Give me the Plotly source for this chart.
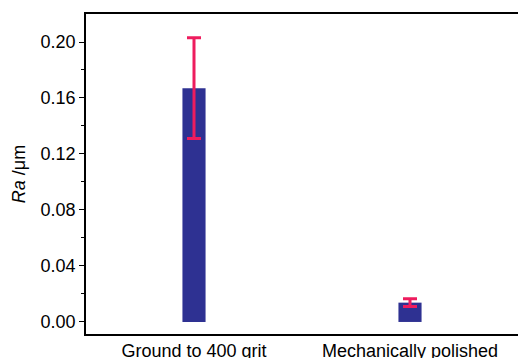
import plotly.graph_objects as go

categories = ["Ground to 400 grit", "Mechanically polished"]
ra_values = [0.167, 0.0138]
ra_errors = [0.036, 0.0028]

fig = go.Figure()
fig.add_trace(go.Bar(
    x=[0, 1], y=ra_values,
    width=0.107,
    marker=dict(color="#2E3192", line=dict(width=0)),
    error_y=dict(type="data", array=ra_errors, visible=True,
                 color="#EE1C5E", thickness=3, width=7),
))

font = "Liberation Sans, Arial, sans-serif"
fig.update_layout(
    width=518, height=358,
    margin=dict(l=86, r=0, t=14, b=24),
    plot_bgcolor="white", paper_bgcolor="white",
    showlegend=False,
    font=dict(family=font, size=18, color="black"),
    xaxis=dict(
        range=[-0.5, 1.5],
        tickvals=[0, 1], ticktext=categories,
        showgrid=False, zeroline=False, automargin=False,
        showline=True, linecolor="black", linewidth=1.5, mirror=True,
        ticks="", tickfont=dict(size=18),
    ),
    yaxis=dict(
        range=[-0.0086, 0.22],
        automargin=False,
        tickvals=[0.0, 0.04, 0.08, 0.12, 0.16, 0.20],
        ticktext=["0.00", "0.04", "0.08", "0.12", "0.16", "0.20"],
        showgrid=False, zeroline=False,
        showline=True, linecolor="black", linewidth=1.5,
        ticks="outside", ticklen=5, tickwidth=1, tickcolor="black",
        minor=dict(tickvals=[0.02, 0.06, 0.10, 0.14, 0.18], ticks="outside",
                   ticklen=3, tickwidth=1, tickcolor="black"),
        tickfont=dict(size=18),
        title=dict(text="<i>Ra</i> /μm", font=dict(size=18), standoff=10),
    ),
)
fig.write_html("out.html")
